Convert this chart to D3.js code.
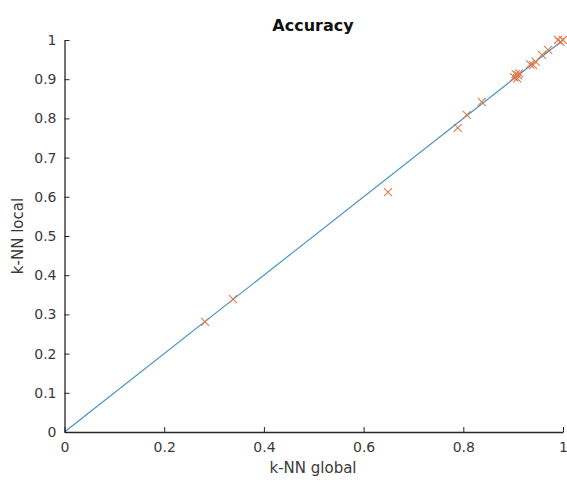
<!DOCTYPE html>
<html>
<head>
<meta charset="utf-8">
<script src="https://cdn.jsdelivr.net/npm/d3@7"></script>
<style>
  body { margin: 0; background: #fff; }
  text { font-family: "DejaVu Sans", sans-serif; }
</style>
</head>
<body>
<div id="chart"></div>
<script>
// k-NN global vs k-NN local accuracy
const globalAcc = [0.282, 0.338, 0.649, 0.789, 0.807, 0.837,
  0.902, 0.905, 0.908, 0.910, 0.912, 0.934, 0.940, 0.945,
  0.958, 0.970, 0.990, 0.995, 1.0];
const localAcc = [0.281, 0.339, 0.612, 0.776, 0.809, 0.842,
  0.905, 0.913, 0.902, 0.910, 0.915, 0.938, 0.936, 0.945,
  0.962, 0.975, 1.0, 0.995, 1.0];
const identity = [0, 1];
const xTicks = [0, 0.2, 0.4, 0.6, 0.8, 1];
const yTicks = [0, 0.1, 0.2, 0.3, 0.4, 0.5, 0.6, 0.7, 0.8, 0.9, 1];

const width = 567;
const height = 482;
const margin = { top: 40, right: 4, bottom: 50, left: 64.5 };

const svg = d3.select('#chart')
  .append('svg')
    .attr('width', width)
    .attr('height', height);

const x = d3.scaleLinear()
  .domain([0, 1])
  .range([margin.left, width - margin.right]);

const y = d3.scaleLinear()
  .domain([0, 1])
  .range([height - margin.bottom, margin.top]);

// identity line
svg.append('line')
  .attr('x1', x(identity[0]))
  .attr('y1', y(identity[0]))
  .attr('x2', x(identity[1]))
  .attr('y2', y(identity[1]))
  .attr('stroke', '#3d8fc4')
  .attr('stroke-width', 1.1);

// axes, MATLAB style: ticks inside, no box
const xAxis = svg.append('g')
  .attr('transform', `translate(0,${y(0)})`)
  .call(d3.axisBottom(x).tickValues(xTicks).tickFormat(d3.format('~g'))
    .tickSizeInner(-5).tickSizeOuter(0).tickPadding(10));

const yAxis = svg.append('g')
  .attr('transform', `translate(${x(0)},0)`)
  .call(d3.axisLeft(y).tickValues(yTicks).tickFormat(d3.format('~g'))
    .tickSizeInner(-5).tickSizeOuter(0).tickPadding(8));

[xAxis, yAxis].forEach(g => {
  g.select('.domain').attr('stroke', '#262626').attr('stroke-width', 1.3);
  g.selectAll('.tick line').attr('stroke', '#262626');
  g.selectAll('.tick text')
    .attr('fill', '#3a3a3a')
    .style('font-size', '14px')
    .style('font-family', '"DejaVu Sans", sans-serif');
});

// markers
const pts = globalAcc.map((g, i) => [g, localAcc[i]]);
const s = 4;
svg.append('g')
  .selectAll('path')
  .data(pts)
  .join('path')
    .attr('d', d => {
      const cx = x(d[0]), cy = y(d[1]);
      return `M${cx - s},${cy - s}L${cx + s},${cy + s}M${cx - s},${cy + s}L${cx + s},${cy - s}`;
    })
    .attr('stroke', '#de7a4e')
    .attr('stroke-width', 1.1)
    .attr('fill', 'none');

// labels
svg.append('text')
  .attr('x', 313)
  .attr('y', 31)
  .attr('text-anchor', 'middle')
  .style('font-size', '16px')
  .style('font-weight', 'bold')
  .attr('fill', '#111')
  .text('Accuracy');

svg.append('text')
  .attr('x', 313)
  .attr('y', 473)
  .attr('text-anchor', 'middle')
  .style('font-size', '15px')
  .attr('fill', '#3a3a3a')
  .text('k-NN global');

svg.append('text')
  .attr('transform', `translate(23,${(y(0) + y(1)) / 2}) rotate(-90)`)
  .attr('text-anchor', 'middle')
  .style('font-size', '15px')
  .attr('fill', '#3a3a3a')
  .text('k-NN local');
</script>
</body>
</html>
